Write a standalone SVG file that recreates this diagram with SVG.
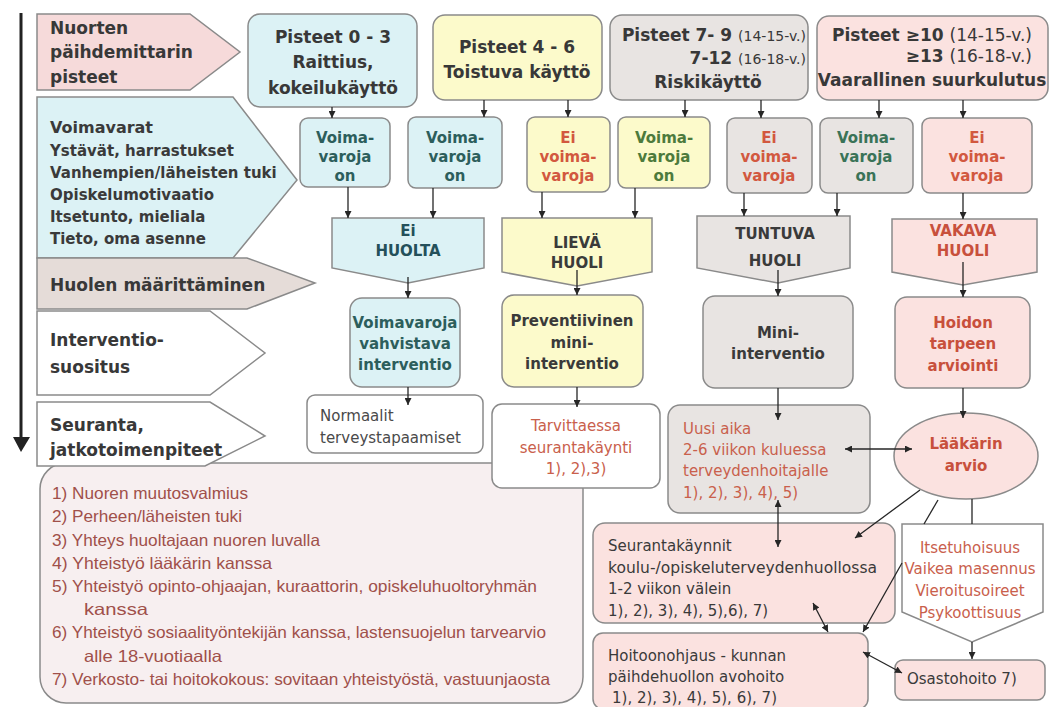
<svg xmlns="http://www.w3.org/2000/svg" width="1050" height="707" viewBox="0 0 1050 707">
<defs>
<style>
.bx{stroke:#8a8a8a;stroke-width:1.5}
.cy{fill:#dcf2f5}.ye{fill:#fcfacb}.gr{fill:#e8e4e2}.pk{fill:#fbe2e0}.wh{fill:#ffffff}.lp{fill:#f6dada}.lh{fill:#e5dcd8}.ls{fill:#f7eff0}
text{font-family:"DejaVu Sans","Liberation Sans",sans-serif}
.h17{font-size:17px;font-weight:bold;fill:#383838}
.h15{font-size:15px;font-weight:bold}
.r15{font-size:15px}
.li{font-family:"Liberation Sans",Arial,sans-serif;font-size:16.5px;fill:#a0504a}
.dk{fill:#3a3a3a}.tl{fill:#2c5e5c}.gn{fill:#4d7a3c}.gg{fill:#3a7358}.rd{fill:#d2583f}.rr{fill:#c8503c}.rl{fill:#c9604c}.gy{fill:#4a4a4a}
.c{text-anchor:middle}
.cn{stroke:#262626;stroke-width:1.3;fill:none}
.ae{marker-end:url(#ah)}
.as{marker-start:url(#ah)}
</style>
<marker id="ah" viewBox="0 0 8 8" refX="8" refY="4" markerWidth="7" markerHeight="7" markerUnits="userSpaceOnUse" orient="auto-start-reverse">
<path d="M0,0 L8,4 L0,8 z" fill="#262626"/>
</marker>
</defs>
<rect width="1050" height="707" fill="#ffffff"/>

<!-- timeline arrow -->
<g id="timeline">
<line x1="21" y1="13" x2="21" y2="440" stroke="#222" stroke-width="3"/>
<path d="M13,437 L30,437 L21,452 z" fill="#222"/>
</g>

<!-- left row labels -->
<g id="lbl-pisteet">
<path class="bx lp" d="M37,14 H190 L240,52 L190,90 H37 z"/>
<text class="h17" x="50" y="34">Nuorten</text>
<text class="h17" x="50" y="58">päihdemittarin</text>
<text class="h17" x="50" y="83">pisteet</text>
</g>
<g id="lbl-voimavarat">
<path class="bx cy" d="M37,97 H233 L297,180 L233,258 H37 z"/>
<text class="h15 dk" x="50" y="133" style="font-size:16px">Voimavarat</text>
<text class="h15 dk" x="50" y="155.5">Ystävät, harrastukset</text>
<text class="h15 dk" x="50" y="177.5">Vanhempien/läheisten tuki</text>
<text class="h15 dk" x="50" y="199.5">Opiskelumotivaatio</text>
<text class="h15 dk" x="50" y="221.5">Itsetunto, mieliala</text>
<text class="h15 dk" x="50" y="243.5">Tieto, oma asenne</text>
</g>
<g id="lbl-huoli">
<path class="bx lh" d="M37,258 H247 L315,283 L247,309 H37 z"/>
<text class="h17" x="50" y="291">Huolen määrittäminen</text>
</g>
<g id="lbl-interventio">
<path class="bx wh" d="M37,311 H210 L265,353 L210,395 H37 z"/>
<text class="h17" x="50" y="346">Interventio-</text>
<text class="h17" x="50" y="373">suositus</text>
</g>

<!-- list box -->
<g id="list">
<rect class="bx ls" x="40" y="463" width="543" height="240" rx="26"/>
<text class="li" x="52" y="498.5" textLength="196" lengthAdjust="spacingAndGlyphs">1) Nuoren muutosvalmius</text>
<text class="li" x="52" y="521.5" textLength="190" lengthAdjust="spacingAndGlyphs">2) Perheen/läheisten tuki</text>
<text class="li" x="52" y="545.5" textLength="268" lengthAdjust="spacingAndGlyphs">3) Yhteys huoltajaan nuoren luvalla</text>
<text class="li" x="52" y="568.5" textLength="220" lengthAdjust="spacingAndGlyphs">4) Yhteistyö lääkärin kanssa</text>
<text class="li" x="52" y="591.5" textLength="485" lengthAdjust="spacingAndGlyphs">5) Yhteistyö opinto-ohjaajan, kuraattorin,  opiskeluhuoltoryhmän</text>
<text class="li" x="84" y="614.5" textLength="64" lengthAdjust="spacingAndGlyphs">kanssa</text>
<text class="li" x="52" y="637.5" textLength="494" lengthAdjust="spacingAndGlyphs">6) Yhteistyö sosiaalityöntekijän kanssa, lastensuojelun tarvearvio</text>
<text class="li" x="84" y="661.5" textLength="138" lengthAdjust="spacingAndGlyphs">alle 18-vuotiaalla</text>
<text class="li" x="52" y="684.5" textLength="498" lengthAdjust="spacingAndGlyphs">7) Verkosto- tai hoitokokous: sovitaan yhteistyöstä, vastuunjaosta</text>
</g>
<g id="lbl-seuranta">
<path class="bx wh" d="M37,402 H210 L265,436 L205,466 H37 z"/>
<text class="h17" x="50" y="431">Seuranta,</text>
<text class="h17" x="50" y="456">jatkotoimenpiteet</text>
</g>

<!-- top score boxes -->
<g id="p03">
<rect class="bx cy" x="248" y="14" width="169" height="93" rx="12"/>
<text class="h17 c" x="333" y="43">Pisteet 0 - 3</text>
<text class="h17 c" x="333" y="68">Raittius,</text>
<text class="h17 c" x="333" y="94">kokeilukäyttö</text>
</g>
<g id="p46">
<rect class="bx ye" x="433" y="15" width="169" height="85" rx="12"/>
<text class="h17 c" x="517" y="53">Pisteet 4 - 6</text>
<text class="h17 c" x="517" y="78">Toistuva käyttö</text>
</g>
<g id="p79">
<rect class="bx gr" x="610" y="15" width="198" height="85" rx="12"/>
<text class="h17" x="806" y="41" text-anchor="end">Pisteet 7- 9 <tspan style="font-weight:normal;font-size:14px">(14-15-v.)</tspan></text>
<text class="h17" x="806" y="64" text-anchor="end">7-12 <tspan style="font-weight:normal;font-size:14px">(16-18-v.)</tspan></text>
<text class="h17 c" x="708" y="88">Riskikäyttö</text>
</g>
<g id="p10">
<rect class="bx pk" x="817" y="16" width="231" height="84" rx="12"/>
<text class="h17" x="1032" y="41" text-anchor="end">Pisteet ≥10 <tspan style="font-weight:normal;font-size:17px">(14-15-v.)</tspan></text>
<text class="h17" x="1032" y="62" text-anchor="end">≥13 <tspan style="font-weight:normal;font-size:17px">(16-18-v.)</tspan></text>
<text class="h17 c" x="932" y="86">Vaarallinen suurkulutus</text>
</g>

<!-- resource boxes -->
<g id="r1">
<rect class="bx cy" x="300" y="118" width="90" height="69" rx="8"/>
<text class="h15 tl c" x="345" y="142.5">Voima-</text>
<text class="h15 tl c" x="345" y="161.5">varoja</text>
<text class="h15 tl c" x="345" y="180.5">on</text>
</g>
<g id="r2">
<rect class="bx cy" x="408" y="117" width="94" height="71" rx="8"/>
<text class="h15 tl c" x="455" y="142.5">Voima-</text>
<text class="h15 tl c" x="455" y="161.5">varoja</text>
<text class="h15 tl c" x="455" y="180.5">on</text>
</g>
<g id="r3">
<rect class="bx ye" x="527" y="117" width="83" height="75" rx="8"/>
<text class="h15 rd c" x="568" y="142.5">Ei</text>
<text class="h15 rd c" x="568" y="161.5">voima-</text>
<text class="h15 rd c" x="568" y="180.5">varoja</text>
</g>
<g id="r4">
<rect class="bx ye" x="618" y="117" width="92" height="71" rx="8"/>
<text class="h15 gn c" x="664" y="142.5">Voima-</text>
<text class="h15 gn c" x="664" y="161.5">varoja</text>
<text class="h15 gn c" x="664" y="180.5">on</text>
</g>
<g id="r5">
<rect class="bx gr" x="727" y="118" width="85" height="75" rx="8"/>
<text class="h15 rd c" x="769" y="142.5">Ei</text>
<text class="h15 rd c" x="769" y="161.5">voima-</text>
<text class="h15 rd c" x="769" y="180.5">varoja</text>
</g>
<g id="r6">
<rect class="bx gr" x="820" y="118" width="93" height="75" rx="8"/>
<text class="h15 gg c" x="866" y="142.5">Voima-</text>
<text class="h15 gg c" x="866" y="161.5">varoja</text>
<text class="h15 gg c" x="866" y="180.5">on</text>
</g>
<g id="r7">
<rect class="bx pk" x="922" y="118" width="110" height="75" rx="8"/>
<text class="h15 rd c" x="977" y="142.5">Ei</text>
<text class="h15 rd c" x="977" y="161.5">voima-</text>
<text class="h15 rd c" x="977" y="180.5">varoja</text>
</g>

<!-- concern chevrons -->
<g id="eihuolta">
<path class="bx cy" d="M332,218 H484 V268 L408,283 L332,268 z"/>
<text class="h15 c" x="408" y="235.5" style="fill:#24505a">Ei</text>
<text class="h15 c" x="408" y="255.5" style="fill:#24505a">HUOLTA</text>
</g>
<g id="lieva">
<path class="bx ye" d="M502,218 H652 V272 L577,286 L502,272 z"/>
<text class="h15 dk c" x="577" y="247.5">LIEVÄ</text>
<text class="h15 dk c" x="577" y="267.5">HUOLI</text>
</g>
<g id="tuntuva">
<path class="bx gr" d="M697,216 H850 V268 L778,283 L697,268 z"/>
<text class="h15 dk c" x="775" y="238.5">TUNTUVA</text>
<text class="h15 dk c" x="775" y="265.5">HUOLI</text>
</g>
<g id="vakava">
<path class="bx pk" d="M892,219 H1037 V272 L963,285 L892,272 z"/>
<text class="h15 rr c" x="963" y="235.5">VAKAVA</text>
<text class="h15 rr c" x="963" y="255.5">HUOLI</text>
</g>

<!-- interventions -->
<g id="i1">
<rect class="bx cy" x="350" y="298" width="110" height="89" rx="12"/>
<text class="h15 tl c" x="405" y="327.5">Voimavaroja</text>
<text class="h15 tl c" x="405" y="348.5">vahvistava</text>
<text class="h15 tl c" x="405" y="369.5">interventio</text>
</g>
<g id="i2">
<rect class="bx ye" x="502" y="295" width="141" height="92" rx="12"/>
<text class="h15 dk c" x="572" y="325.5">Preventiivinen</text>
<text class="h15 dk c" x="572" y="347.5">mini-</text>
<text class="h15 dk c" x="572" y="368.5">interventio</text>
</g>
<g id="i3">
<rect class="bx gr" x="703" y="296" width="150" height="92" rx="12"/>
<text class="h15 dk c" x="778" y="337.5">Mini-</text>
<text class="h15 dk c" x="778" y="358.5">interventio</text>
</g>
<g id="i4">
<rect class="bx pk" x="895" y="297" width="135" height="91" rx="12"/>
<text class="h15 rr c" x="963" y="327.5">Hoidon</text>
<text class="h15 rr c" x="963" y="348.5">tarpeen</text>
<text class="h15 rr c" x="963" y="370.5">arviointi</text>
</g>

<!-- follow-up -->
<g id="normaalit">
<rect class="bx wh" x="307" y="395" width="176" height="58" rx="8"/>
<text class="r15 gy" x="320" y="420.5">Normaalit</text>
<text class="r15 gy" x="320" y="442.5">terveystapaamiset</text>
</g>
<g id="tarvittaessa">
<rect class="bx wh" x="492" y="404" width="168" height="84" rx="10"/>
<text class="r15 rl c" x="576" y="430.5">Tarvittaessa</text>
<text class="r15 rl c" x="576" y="452.5">seurantakäynti</text>
<text class="r15 rl c" x="576" y="473.5">1), 2),3)</text>
</g>
<g id="uusiaika">
<rect class="bx gr" x="668" y="405" width="202" height="108" rx="12"/>
<text class="r15 rl" x="683" y="433.5">Uusi aika</text>
<text class="r15 rl" x="683" y="454.5">2-6 viikon kuluessa</text>
<text class="r15 rl" x="683" y="475.5">terveydenhoitajalle</text>
<text class="r15 rl" x="683" y="497.5">1), 2), 3), 4), 5)</text>
</g>
<g id="laakari">
<ellipse class="bx pk" cx="966" cy="456" rx="72" ry="43"/>
<text class="h15 rr c" x="966" y="448.5">Lääkärin</text>
<text class="h15 rr c" x="966" y="470.5">arvio</text>
</g>
<g id="seurantakaynnit">
<rect class="bx pk" x="593" y="523" width="302" height="100" rx="12"/>
<text class="r15 dk" x="608" y="550.5">Seurantakäynnit</text>
<text class="r15 dk" x="608" y="572.5" textLength="269" lengthAdjust="spacingAndGlyphs">koulu-/opiskeluterveydenhuollossa</text>
<text class="r15 dk" x="608" y="594">1-2 viikon välein</text>
<text class="r15 dk" x="608" y="615.5">1), 2), 3), 4), 5),6), 7)</text>
</g>
<g id="hoitoonohjaus">
<rect class="bx pk" x="593" y="633" width="275" height="76" rx="10"/>
<text class="r15 dk" x="608" y="660.5">Hoitoonohjaus - kunnan</text>
<text class="r15 dk" x="608" y="681.5">päihdehuollon avohoito</text>
<text class="r15 dk" x="612" y="702.5">1), 2), 3), 4), 5), 6), 7)</text>
</g>
<g id="oireet">
<path class="bx wh" d="M902,524 H1043 V612 L972,642 L902,612 z"/>
<text class="r15 rl c" x="970" y="552.5">Itsetuhoisuus</text>
<text class="r15 rl c" x="970" y="573.5">Vaikea masennus</text>
<text class="r15 rl c" x="970" y="595.5">Vieroitusoireet</text>
<text class="r15 rl c" x="970" y="617.5">Psykoottisuus</text>
</g>
<g id="osastohoito">
<rect class="bx pk" x="895" y="660" width="150" height="40" rx="8"/>
<text class="r15 dk" x="907" y="683.5">Osastohoito 7)</text>
</g>

<!-- connectors -->
<g id="connectors">
<line class="cn ae" x1="332" y1="107" x2="332" y2="118"/>
<line class="cn ae" x1="484" y1="100" x2="484" y2="117"/>
<line class="cn ae" x1="568" y1="100" x2="568" y2="117"/>
<line class="cn ae" x1="685" y1="100" x2="685" y2="117"/>
<line class="cn ae" x1="761" y1="100" x2="761" y2="118"/>
<line class="cn ae" x1="879" y1="100" x2="879" y2="118"/>
<line class="cn ae" x1="963" y1="100" x2="963" y2="118"/>
<line class="cn ae" x1="348" y1="187" x2="348" y2="218"/>
<line class="cn ae" x1="433" y1="188" x2="433" y2="218"/>
<line class="cn ae" x1="542" y1="192" x2="542" y2="218"/>
<line class="cn ae" x1="635" y1="188" x2="635" y2="218"/>
<line class="cn ae" x1="744" y1="193" x2="744" y2="216"/>
<line class="cn ae" x1="837" y1="193" x2="837" y2="216"/>
<line class="cn ae" x1="963" y1="193" x2="963" y2="219"/>
<line class="cn ae" x1="408" y1="277" x2="408" y2="298"/>
<line class="cn ae" x1="577" y1="270" x2="577" y2="295"/>
<line class="cn ae" x1="778" y1="270" x2="778" y2="296"/>
<line class="cn ae" x1="963" y1="262" x2="963" y2="297"/>
<line class="cn ae" x1="408" y1="387" x2="408" y2="405"/>
<line class="cn ae" x1="577" y1="387" x2="577" y2="407"/>
<line class="cn ae" x1="778" y1="388" x2="778" y2="420"/>
<line class="cn ae" x1="963" y1="388" x2="963" y2="418"/>
<line class="cn ae as" x1="845" y1="449" x2="912" y2="449"/>
<line class="cn ae as" x1="778" y1="500" x2="778" y2="547"/>
<line class="cn ae" x1="920" y1="490" x2="855" y2="538"/>
<line class="cn" x1="938" y1="500" x2="924" y2="524"/>
<line class="cn ae" x1="902" y1="563" x2="863" y2="632"/>
<line class="cn" x1="972" y1="499" x2="972" y2="524"/>
<line class="cn ae as" x1="813" y1="603" x2="828" y2="632"/>
<line class="cn ae" x1="972" y1="642" x2="972" y2="659"/>
<line class="cn ae as" x1="863" y1="652" x2="902" y2="673"/>
</g>
</svg>
